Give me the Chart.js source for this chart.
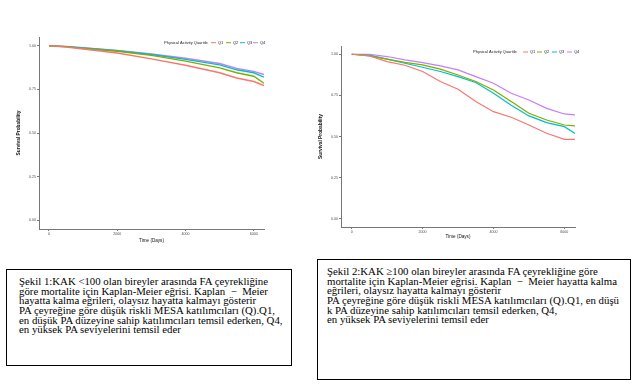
<!DOCTYPE html>
<html>
<head>
<meta charset="utf-8">
<script src="https://cdn.jsdelivr.net/npm/chart.js@4"></script>
<style>
  body { margin: 0; width: 638px; height: 384px; background: #fff; position: relative; overflow: hidden; }
  canvas { position: absolute; }
  .box {
    position: absolute; border: 1px solid #000; box-sizing: border-box;
    font-family: "Liberation Serif", "Times New Roman", serif; font-size: 10.8px;
    line-height: 9.65px; white-space: pre; color: #000;
  }
</style>
</head>
<body>
<canvas id="chart1" style="left:0;top:0"></canvas>
<canvas id="chart2" style="left:300px;top:0"></canvas>

<div class="box" style="left:6px;top:269px;width:286px;height:97px;padding:7px 0 0 12px">Şekil 1:KAK &lt;100 olan bireyler arasında FA çeyrekliğine
göre mortalite için Kaplan-Meier eğrisi. Kaplan  −  Meier
hayatta kalma eğrileri, olaysız hayatta kalmayı gösterir
PA çeyreğine göre düşük riskli MESA katılımcıları (Q).Q1,
en düşük PA düzeyine sahip katılımcıları temsil ederken, Q4,
en yüksek PA seviyelerini temsil eder</div>

<div class="box" style="left:317px;top:259px;width:314px;height:121px;padding:7px 0 0 9px">Şekil 2:KAK ≥100 olan bireyler arasında FA çeyrekliğine göre
mortalite için Kaplan-Meier eğrisi. Kaplan  −  Meier hayatta kalma
eğrileri, olaysız hayatta kalmayı gösterir
PA çeyreğine göre düşük riskli MESA katılımcıları (Q).Q1, en düşü
k PA düzeyine sahip katılımcıları temsil ederken, Q4,
en yüksek PA seviyelerini temsil eder</div>

<script>
// 그래프 1: KAK < 100
const days1 = [0, 500, 1000, 2000, 3000, 4000, 5000, 5500, 6000, 6300];
const q1a = [1.0, 0.992, 0.981, 0.958, 0.925, 0.888, 0.845, 0.815, 0.795, 0.772];
const q2a = [1.0, 0.995, 0.985, 0.968, 0.945, 0.912, 0.873, 0.845, 0.825, 0.785];
const q3a = [1.0, 0.995, 0.987, 0.971, 0.950, 0.922, 0.890, 0.862, 0.845, 0.820];
const q4a = [1.0, 0.996, 0.988, 0.973, 0.953, 0.928, 0.898, 0.870, 0.853, 0.835];

// 그래프 2: KAK >= 100
const days2 = [0, 500, 1000, 1500, 2000, 2500, 3000, 3500, 4000, 4500, 5000, 5500, 6000, 6300];
const q1b = [1.0, 0.99, 0.955, 0.933, 0.895, 0.834, 0.787, 0.712, 0.651, 0.617, 0.570, 0.520, 0.483, 0.483];
const q2b = [1.0, 0.99, 0.970, 0.951, 0.935, 0.909, 0.874, 0.834, 0.783, 0.712, 0.641, 0.600, 0.570, 0.564];
const q3b = [1.0, 0.994, 0.970, 0.945, 0.921, 0.895, 0.864, 0.828, 0.763, 0.690, 0.625, 0.584, 0.560, 0.519];
const q4b = [1.0, 1.0, 0.986, 0.966, 0.949, 0.929, 0.905, 0.864, 0.824, 0.763, 0.722, 0.671, 0.637, 0.631];

const groups = ["Q1", "Q2", "Q3", "Q4"];
const colors = ["#F8766D", "#7CAE00", "#00BFC4", "#C77CFF"];
const xTicks = [0, 2000, 4000, 6000];
const yTicks = [0, 0.25, 0.5, 0.75, 1.0];

const tickColor = "#4d4d4d";
const axisColor = "#777";

function toPoints(days, values) {
  return days.map((d, i) => ({ x: d, y: values[i] }));
}

// 범례를 플롯 안 오른쪽 위에 그림
function legendPlugin(cfg) {
  return {
    id: "kmLegend",
    afterDraw(chart) {
      const ctx = chart.ctx;
      ctx.save();
      ctx.font = "4px 'Liberation Sans', Arial, sans-serif";
      ctx.fillStyle = "#222";
      ctx.textBaseline = "middle";
      ctx.textAlign = "left";
      ctx.fillText("Physical Activity Quartile", cfg.x, cfg.y);
      groups.forEach((g, i) => {
        const x0 = cfg.items[i];
        ctx.strokeStyle = colors[i];
        ctx.lineWidth = 1;
        ctx.beginPath();
        ctx.moveTo(x0, cfg.y);
        ctx.lineTo(x0 + 5, cfg.y);
        ctx.stroke();
        ctx.fillStyle = "#222";
        ctx.fillText(g, x0 + 7, cfg.y);
      });
      ctx.restore();
    },
  };
}

function makeChart(id, w, h, days, series, geo) {
  const canvas = document.getElementById(id);
  canvas.width = w;
  canvas.height = h;
  canvas.style.width = w + "px";
  canvas.style.height = h + "px";

  return new Chart(canvas.getContext("2d"), {
    type: "line",
    data: {
      datasets: series.map((vals, i) => ({
        label: groups[i],
        data: toPoints(days, vals),
        borderColor: colors[i],
        borderWidth: geo.lw,
        pointRadius: 0,
        tension: 0,
        fill: false,
      })),
    },
    options: {
      responsive: false,
      animation: false,
      layout: { padding: { left: 0, right: geo.padRight, top: geo.padTop, bottom: 0 } },
      plugins: { legend: { display: false }, tooltip: { enabled: false } },
      scales: {
        x: {
          type: "linear",
          min: geo.xmin,
          max: 6300,
          afterBuildTicks: (s) => { s.ticks = xTicks.map((v) => ({ value: v })); },
          afterFit: (s) => { s.height = geo.xh; },
          ticks: { color: tickColor, font: { size: 3.6, family: "'Liberation Sans', Arial" }, padding: 1, maxRotation: 0, callback: (v) => String(v) },
          grid: { drawOnChartArea: false, drawTicks: true, tickLength: 2, color: axisColor },
          border: { display: true, color: axisColor, width: 1 },
          title: { display: true, text: "Time (Days)", color: "#111", font: { size: 4.6, family: "'Liberation Sans', Arial" }, padding: { top: 1, bottom: geo.xTitlePad } },
        },
        y: {
          min: -0.05,
          max: 1.05,
          afterBuildTicks: (s) => { s.ticks = yTicks.map((v) => ({ value: v })); },
          afterFit: (s) => { s.width = geo.yw; },
          ticks: { color: tickColor, font: { size: 3.6, family: "'Liberation Sans', Arial" }, padding: 1, callback: (v) => v.toFixed(2) },
          grid: { drawOnChartArea: false, drawTicks: true, tickLength: 2, color: axisColor },
          border: { display: true, color: axisColor, width: 1 },
          title: { display: true, text: "Survival Probability", color: "#111", font: { size: 4.8, weight: "bold", family: "'Liberation Sans', Arial" }, padding: { top: geo.yTitlePad, bottom: 0 } },
        },
      },
    },
    plugins: [legendPlugin(geo.legend)],
  });
}

makeChart("chart1", 280, 250, days1, [q1a, q2a, q3a, q4a], {
  lw: 1.4, xmin: -293, yw: 39, xh: 21, padRight: 16, padTop: 37,
  xTitlePad: 7, yTitlePad: 16,
  legend: { x: 164, y: 42.7, items: [211, 226, 240, 253] },
});

makeChart("chart2", 338, 250, days2, [q1b, q2b, q3b, q4b], {
  lw: 1.2, xmin: -302, yw: 41, xh: 23, padRight: 63, padTop: 46,
  xTitlePad: 11, yTitlePad: 18,
  legend: { x: 173, y: 52, items: [223, 237, 252, 267] },
});
</script>
</body>
</html>
